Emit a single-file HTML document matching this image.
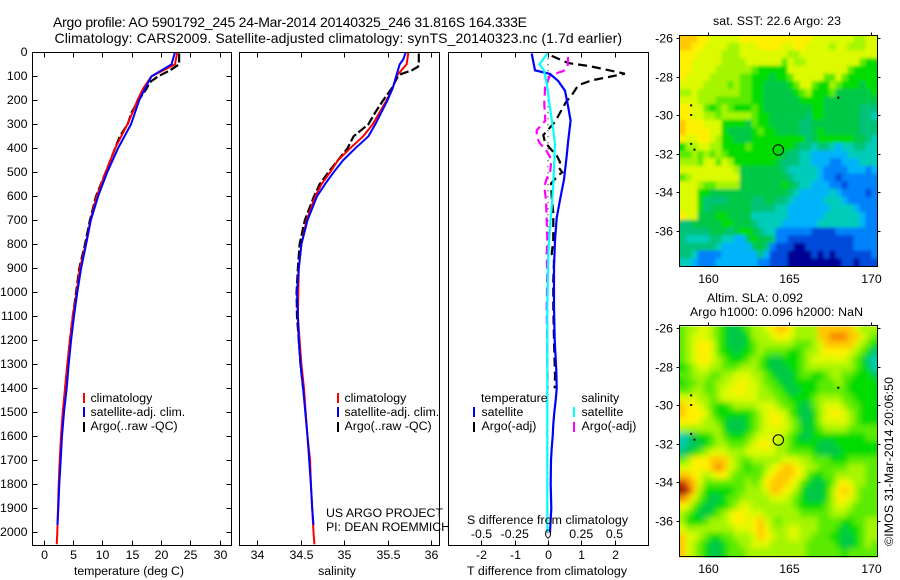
<!DOCTYPE html>
<html>
<head>
<meta charset="utf-8">
<title>Argo profile</title>
<style>
html,body{margin:0;padding:0;background:#fff;}
svg{display:block;}
text{font-family:"Liberation Sans",sans-serif;font-size:12.35px;fill:#000;}
.t{font-size:14px;}
</style>
</head>
<body>
<svg id="fig" width="900" height="580" viewBox="0 0 900 580" xmlns="http://www.w3.org/2000/svg">
<defs>
<clipPath id="clip-sst"><rect x="679.5" y="35.5" width="198" height="231"/></clipPath>
<clipPath id="clip-sla"><rect x="679.5" y="326.5" width="198" height="231"/></clipPath>
<clipPath id="clip-p1"><rect x="32" y="52" width="200" height="494"/></clipPath>
<clipPath id="clip-p2"><rect x="239" y="52" width="201" height="494"/></clipPath>
<clipPath id="clip-p3"><rect x="448" y="52" width="201" height="494"/></clipPath>
<filter id="smooth" filterUnits="userSpaceOnUse" x="650" y="300" width="250" height="280"><feGaussianBlur stdDeviation="3"/></filter>
<filter id="soft" filterUnits="userSpaceOnUse" x="650" y="0" width="250" height="290"><feGaussianBlur stdDeviation="1.5"/></filter>
</defs>
<rect x="0" y="0" width="900" height="580" fill="#fff"/>
<g id="maps"></g>
<g id="series"></g>
<g id="axes"></g>
<text class="t" x="53" y="27" textLength="474" lengthAdjust="spacing">Argo profile: AO 5901792_245 24-Mar-2014 20140325_246 31.816S 164.333E</text>
<text class="t" x="54.5" y="43" textLength="567.5" lengthAdjust="spacing">Climatology: CARS2009. Satellite-adjusted climatology: synTS_20140323.nc (1.7d earlier)</text>
<text x="713" y="25" textLength="128" lengthAdjust="spacing">sat. SST: 22.6 Argo: 23</text>
<text x="707" y="302" textLength="96" lengthAdjust="spacing">Altim. SLA: 0.092</text>
<text x="690" y="316" textLength="173" lengthAdjust="spacing">Argo h1000: 0.096 h2000: NaN</text>
<text transform="translate(893,546) rotate(-90)" textLength="169" lengthAdjust="spacing">©IMOS 31-Mar-2014 20:06:50</text>
<text x="74" y="575" textLength="110" lengthAdjust="spacing">temperature (deg C)</text>
<text x="337" y="575" text-anchor="middle">salinity</text>
<text x="467" y="575" textLength="160" lengthAdjust="spacing">T difference from climatology</text>
<text x="467" y="524" textLength="161" lengthAdjust="spacing">S difference from climatology</text>
<text x="326" y="517" textLength="117" lengthAdjust="spacing">US ARGO PROJECT</text>
<text x="326" y="531" textLength="124" lengthAdjust="spacing">PI: DEAN ROEMMICH</text>

<g>
<rect x="83" y="393" width="2" height="10" fill="#f00"/>
<text x="90.5" y="402">climatology</text>
<rect x="83" y="407" width="2" height="10" fill="#00f"/>
<text x="90.5" y="416">satellite-adj. clim.</text>
<rect x="83" y="422" width="2" height="10" fill="#000"/>
<text x="90.5" y="430">Argo(..raw -QC)</text>
</g>
<g>
<rect x="337" y="393" width="2" height="10" fill="#f00"/>
<text x="344.5" y="402">climatology</text>
<rect x="337" y="407" width="2" height="10" fill="#00f"/>
<text x="344.5" y="416">satellite-adj. clim.</text>
<rect x="337" y="422" width="2" height="10" fill="#000"/>
<text x="344.5" y="430">Argo(..raw -QC)</text>
</g>
<g>
<text x="481" y="402">temperature</text>
<rect x="473" y="407" width="2" height="10" fill="#00f"/>
<text x="481.5" y="416">satellite</text>
<rect x="473" y="422" width="2" height="10" fill="#000"/>
<text x="481.5" y="430">Argo(-adj)</text>
<text x="581.5" y="402">salinity</text>
<rect x="573" y="407" width="2" height="10" fill="#0ff"/>
<text x="581.5" y="416">satellite</text>
<rect x="573" y="422" width="2" height="10" fill="#f0f"/>
<text x="581.5" y="430">Argo(-adj)</text>
</g>
</svg>
<script>
// ---- tick labels ----
const depthTicks = [0,100,200,300,400,500,600,700,800,900,1000,1100,1200,1300,1400,1500,1600,1700,1800,1900,2000];
const tempTicks = [0,5,10,15,20,25,30];
const salTicks = ["34","34.5","35","35.5","36"];
const diffTTicks = ["-2","-1","0","1","2"];
const diffSTicks = ["-0.5","-0.25","0","0.25","0.5"];
const lonTicks = [160,165,170];
const latTicks = [-26,-28,-30,-32,-34,-36];

// ---- temperature panel ----
const tempClimDepth = [0,50,75,100,150,200,250,300,400,500,600,700,800,900,1000,1100,1200,1300,1400,1500,1600,1700,1800,1900,2000,2050];
const tempClim = [22.8,22.4,20.4,18.4,17,16,15.2,14.3,12.2,10.6,9.06,8,7.2,6.2,5.65,5,4.5,4.05,3.66,3.27,2.98,2.76,2.59,2.47,2.35,2.25];
const tempSatDepth = [0,50,75,100,150,200,250,300,400,500,600,700,800,900,1000,1100,1200,1300,1400,1500,1600,1700,1800,1900,1970];
const tempSat = [22.4,21.8,20.1,18.4,17.3,16.3,15.6,14.9,12.7,10.85,9.3,8.05,7.25,6.4,5.76,5.2,4.7,4.3,3.95,3.5,3.15,2.93,2.7,2.52,2.38];
const tempArgoDepth = [5,50,75,100,125,150,200,250,300,350,400,500,600,700,800,900,1000,1100,1200,1300,1400];
const tempArgo = [23.1,23.1,21.55,19.55,18.1,17.6,16.2,15,14.35,13,12.2,10.6,8.95,7.9,7.07,6.1,5.55,5,4.5,4.1,3.7];

// ---- salinity panel ----
const salClimDepth = [0,50,75,100,150,200,250,300,350,400,450,500,550,600,700,800,900,1000,1100,1200,1300,1400,1500,1600,1700,1800,1900,2000,2050];
const salClim = [35.74,35.72,35.66,35.6,35.56,35.49,35.41,35.33,35.22,35.07,34.93,34.84,34.74,34.67,34.57,34.51,34.48,34.475,34.47,34.49,34.51,34.54,34.56,34.58,34.61,34.62,34.635,34.65,34.66];
const salSatDepth = [0,30,50,75,100,150,200,250,300,350,400,450,500,550,600,700,800,900,1000,1100,1200,1300,1400,1500,1600,1700,1800,1900,1970];
const salSat = [35.71,35.68,35.64,35.62,35.6,35.56,35.5,35.43,35.36,35.28,35.13,34.99,34.88,34.78,34.69,34.58,34.51,34.48,34.46,34.47,34.48,34.5,34.53,34.555,34.58,34.6,34.62,34.635,34.65];
const salArgoDepth = [5,50,60,75,90,100,150,200,250,300,350,400,450,500,550,600,700,800,900,1000,1100,1200,1300,1400];
const salArgo = [35.86,35.86,35.85,35.78,35.66,35.62,35.55,35.45,35.36,35.28,35.11,35.04,34.93,34.82,34.72,34.655,34.55,34.49,34.47,34.455,34.46,34.48,34.5,34.53];

// ---- difference panel ----
const dTSatDepth = [5,75,90,120,160,230,285,365,435,530,615,690,785,895,1060,1200,1325,1400,1450,1500,1550,1600,1650,1700,1800,1900,2000];
const dTSat = [-0.49,-0.39,0.06,0.31,0.51,0.61,0.68,0.61,0.56,0.48,0.36,0.26,0.21,0.18,0.18,0.2,0.25,0.26,0.23,0.19,0.16,0.14,0.11,0.09,0.08,0.1,0.06];
const dSSatDepth = [5,50,75,130,230,325,380,480,550,630,730,840,1060,1500,2000];
const dSSat = [-0.005,-0.065,-0.03,-0.01,0.015,0.04,0.052,0.045,0.04,0.03,0.015,0.002,-0.005,-0.005,-0.005];
const dTArgoDepth = [15,45,58,89,117,137,180,207,290,345,375,408,430,457,478,500,512,547,603,672,728,783,840,867,950,1060,1200,1350,1400];
const dTArgo = [0.11,0.61,1.26,2.31,1.31,0.91,0.71,0.54,0.21,-0.14,-0.09,0.11,0.26,0.36,0.31,0.43,0.31,0.09,0.11,0.16,0.16,0.16,0.11,0.18,0.16,0.16,0.18,0.21,0.2];
const dSArgoDepth = [20,60,78,96,145,215,285,325,353,380,408,436,470,505,526,561,616,700,783,840,925,1060,1400];
const dSArgo = [0.15,0.147,0.115,0.015,-0.022,-0.028,-0.02,-0.085,-0.085,-0.06,-0.015,0.015,0.022,0.015,-0.01,-0.028,-0.015,-0.01,-0.005,-0.01,-0.005,-0.01,-0.002];

// ---- map data (colour level 0-15) ----
const colourLevels = ["#000096","#004bdc","#0082fa","#00b4fa","#00cdb9","#00c378","#00c846","#00dc00","#5aeb00","#a5f500","#dcfa00","#fff000","#ffc800","#f58200","#c83200","#821400"];
const sstGrid = [
[12,12,12,11,11,10,10,10,10,10,11,11,11,11,11,11,11,11,11,11,11,11,10,10,10,10,10,10,10,9,9,10,10],
[12,12,11,11,10,10,10,10,9,9,10,10,10,11,11,11,11,10,10,11,11,10,10,10,10,9,10,10,9,9,9,10,10],
[11,11,11,10,10,10,10,9,9,9,10,10,10,10,10,10,10,10,9,9,10,10,10,10,10,10,10,10,10,10,10,10,10],
[11,11,10,10,10,10,10,9,9,9,9,10,10,10,10,10,10,8,10,9,9,10,10,10,10,10,10,10,10,10,8,7,7],
[11,11,10,10,10,10,9,9,9,9,9,9,8,7,7,7,7,7,10,10,10,10,10,10,10,10,10,10,8,7,7,7,7],
[11,10,10,10,10,9,9,9,9,9,8,8,7,7,7,6,7,7,8,10,10,10,10,10,8,8,10,8,7,7,7,7,7],
[10,10,10,10,9,9,9,9,8,9,8,8,7,7,6,6,6,6,7,8,10,10,8,7,7,9,8,7,7,7,6,7,7],
[9,9,10,9,9,9,9,9,9,9,8,8,7,7,6,6,6,6,6,7,8,9,7,7,7,8,6,6,6,6,6,6,7],
[10,10,10,9,9,9,8,8,8,8,8,8,7,7,6,6,6,6,6,6,7,7,7,7,6,6,6,6,6,6,6,6,6],
[11,11,10,10,8,7,8,9,8,7,7,7,8,7,6,6,6,6,6,6,6,6,7,7,6,6,6,6,6,6,5,5,5],
[11,11,10,10,9,9,8,9,9,9,9,9,8,7,7,6,6,6,6,6,6,5,7,7,6,6,6,6,6,6,5,5,4],
[12,11,11,11,10,10,10,7,7,7,7,6,8,7,7,6,6,6,6,6,5,5,6,6,6,6,6,6,6,6,5,5,5],
[12,11,11,11,11,10,10,7,6,6,6,6,7,8,7,7,6,6,6,6,5,5,6,7,6,6,6,6,6,6,5,5,5],
[11,10,10,11,11,10,9,7,7,6,6,6,7,7,7,7,7,7,7,7,7,5,6,7,7,7,7,7,7,6,6,5,4],
[7,9,9,10,10,9,9,7,7,7,7,8,7,7,7,7,7,7,7,6,5,5,4,5,5,4,3,4,4,5,5,4,4],
[8,8,9,8,9,8,9,8,7,7,7,7,7,7,7,7,7,6,5,5,4,4,3,3,3,3,3,3,4,4,4,4,4],
[9,9,9,8,10,10,8,10,9,7,7,7,7,7,7,7,6,5,5,5,4,4,3,3,3,2,2,3,3,3,4,4,4],
[10,10,10,10,10,10,10,10,10,9,6,6,6,6,6,6,6,5,4,4,4,4,4,3,2,2,2,2,3,3,3,2,3],
[8,9,10,10,10,10,10,10,10,10,6,6,6,6,6,6,6,6,5,4,4,4,4,3,2,2,1,2,2,2,2,2,2],
[10,10,10,9,8,8,9,9,9,9,6,6,6,6,6,6,6,7,6,5,4,4,3,3,3,2,2,1,2,2,2,2,2],
[10,10,10,7,7,6,6,6,6,6,6,6,6,6,6,6,6,6,5,4,3,3,3,3,3,4,3,2,2,2,2,1,2],
[10,10,10,7,5,5,5,5,6,6,6,6,5,5,6,6,5,5,4,3,3,3,3,3,4,4,4,3,2,2,2,2,2],
[10,10,10,7,5,6,6,6,6,6,6,6,5,5,5,5,4,4,3,3,3,3,3,3,3,4,4,4,4,3,2,2,2],
[11,10,10,6,6,6,7,7,6,6,6,6,4,4,4,4,4,4,3,3,3,3,3,3,4,4,4,4,4,4,3,2,2],
[5,5,6,6,6,6,6,7,7,6,6,6,5,4,4,4,4,3,3,3,3,3,3,4,4,4,4,4,4,4,3,2,2],
[5,5,5,5,5,6,6,6,5,6,7,7,6,5,4,4,2,2,2,2,2,2,1,1,1,1,2,2,2,2,2,2,2],
[5,4,4,4,4,5,5,4,4,3,3,6,7,6,6,5,2,2,1,1,1,1,1,1,1,1,1,1,1,2,2,2,2],
[5,5,5,5,5,5,4,3,3,3,3,3,6,6,5,2,1,1,1,0,0,1,1,1,1,1,1,1,1,2,2,2,2],
[5,5,4,2,2,2,2,3,3,3,3,3,3,5,3,1,1,1,0,0,0,0,1,0,1,0,1,1,1,1,1,1,2],
[4,4,3,2,2,2,3,3,3,3,3,3,3,2,2,1,1,1,0,0,0,0,0,0,0,0,0,1,1,0,1,1,1]
];
const slaGrid = [
[8,9,9,10,10,9,8,7,6,6,7,8,9,9,10,11,12,12,11,9,9,9,9,12,12,12,12,12,12,10,9,9,9],
[8,9,10,10,10,9,8,7,6,6,6,7,9,9,9,10,11,11,10,9,9,9,9,12,12,13,13,13,12,12,10,9,8],
[8,9,10,11,11,10,8,7,6,6,6,7,8,9,9,9,9,9,9,8,8,8,9,10,12,12,12,12,12,10,9,8,7],
[8,9,10,11,11,10,8,7,7,6,7,7,8,9,8,8,8,8,7,7,8,9,9,10,11,11,11,11,10,9,8,7,5],
[8,9,10,11,11,10,9,8,7,7,7,8,9,8,7,6,6,7,7,7,8,9,10,10,10,10,10,10,9,8,7,5,4],
[7,8,9,10,10,9,9,8,8,8,9,9,9,8,7,6,6,6,7,7,8,9,9,9,9,9,9,9,9,8,7,6,4],
[8,8,9,9,9,8,8,9,9,10,10,10,9,9,8,7,6,6,6,7,8,8,7,7,8,9,9,8,8,7,7,7,6],
[7,8,8,9,8,8,9,9,10,10,11,10,10,9,8,8,7,6,6,7,7,7,7,8,8,8,9,8,7,7,7,7,7],
[8,8,9,9,8,8,9,10,10,11,11,10,10,9,9,8,8,7,6,6,7,7,7,8,8,8,8,8,7,7,7,7,7],
[10,10,10,9,9,8,9,10,10,10,10,10,10,9,9,9,8,8,7,7,7,7,8,9,9,9,9,8,8,7,7,7,7],
[12,11,11,10,9,8,7,7,8,9,9,9,9,10,10,10,9,8,8,7,6,6,8,9,10,10,10,9,8,8,7,7,7],
[12,11,11,11,10,8,7,7,7,7,7,7,8,9,10,11,10,10,8,7,6,6,7,9,10,11,11,10,9,8,7,7,7],
[11,11,11,10,9,9,8,7,6,6,6,7,8,9,10,11,11,10,9,8,6,6,7,9,10,10,10,10,9,8,7,7,7],
[9,9,9,9,9,9,9,7,6,6,6,7,8,9,10,10,10,10,9,8,7,6,7,8,9,9,9,9,8,8,8,8,8],
[4,5,6,7,7,8,9,8,7,7,7,8,9,10,10,10,10,9,8,7,6,6,7,7,7,7,7,7,7,7,7,8,8],
[4,5,6,6,7,8,9,9,8,8,8,9,10,11,11,10,9,9,8,7,7,7,7,6,6,6,7,7,7,7,7,7,7],
[5,6,7,8,9,10,10,10,9,9,9,10,10,10,10,10,9,9,8,8,8,8,7,6,6,6,6,7,7,7,7,7,7],
[8,9,11,11,11,12,12,12,10,9,8,8,9,9,9,9,9,10,10,10,9,9,8,8,8,7,7,7,8,8,8,8,8],
[10,10,11,11,11,12,13,12,10,9,8,7,8,8,9,10,11,12,12,11,10,9,9,8,8,8,8,8,9,9,9,8,8],
[12,12,11,10,9,10,11,11,9,8,8,8,8,8,10,11,12,12,12,11,10,8,7,7,8,8,9,9,9,9,9,8,8],
[14,13,12,10,8,8,8,8,8,8,8,9,8,9,11,12,12,12,11,10,8,7,6,6,7,8,10,11,10,9,9,8,8],
[15,14,12,9,7,7,7,7,7,8,8,9,9,9,10,12,12,11,10,9,7,6,6,6,7,9,11,12,11,9,8,8,8],
[13,12,10,8,7,6,6,7,8,8,9,9,9,9,9,10,10,10,9,8,7,6,6,6,7,9,11,11,10,9,8,8,8],
[11,10,8,7,6,6,7,7,8,9,10,10,9,9,9,9,9,9,9,8,7,7,7,7,8,9,10,10,9,8,8,8,8],
[9,8,7,6,6,7,8,9,10,11,11,10,10,10,9,9,9,9,9,9,8,8,8,8,8,9,9,9,8,8,8,8,8],
[9,7,7,7,8,9,9,9,10,11,11,10,11,12,10,9,8,9,9,9,9,9,9,8,8,8,8,7,7,8,8,9,9],
[10,9,9,9,9,9,9,9,9,10,10,10,11,12,11,9,9,9,10,10,9,9,9,8,8,8,7,6,7,7,8,9,9],
[12,10,10,9,8,7,7,8,8,9,9,9,10,12,11,10,9,9,10,10,9,9,8,8,8,7,7,6,6,7,8,9,9],
[12,10,9,8,7,6,6,7,8,8,9,9,10,10,10,9,9,9,9,9,9,8,8,8,8,8,7,6,6,7,8,9,8],
[12,10,9,8,7,6,6,7,8,8,8,9,9,9,9,9,9,9,9,9,9,8,8,8,8,8,8,7,8,8,8,8,8]
];
const profileLon = [164.333];
const profileLat = [-31.816];
const coastLon = [159,159,159,159.2,168];
const coastLat = [-29.5,-30,-31.5,-31.8,-29.1];

// ---- axis functions ----
function depthY(d){return 52.3+0.24*d;}
function tempX(t){return 43.5+5.87*t;}
function salX(s){return 257+87*(s-34);}
function diffTX(v){return 548+33.3*v;}
function diffSX(v){return 548+133*v;}
function lonX(lon){return 707.5+16.35*(lon-160);}
function latY(lat,top){return top+3+19.25*(-26-lat);}

const NS = "http://www.w3.org/2000/svg";
const seriesG = document.getElementById("series");
const axesG = document.getElementById("axes");
const mapsG = document.getElementById("maps");

function line(parent,name,x1,y1,x2,y2,sw){
  const el = document.createElementNS(NS,"line");
  
  
  el.setAttribute("x1",x1);el.setAttribute("y1",y1);el.setAttribute("x2",x2);el.setAttribute("y2",y2);
  el.setAttribute("stroke","#000");el.setAttribute("stroke-width",sw||1);
  el.setAttribute("shape-rendering","crispEdges");
  parent.appendChild(el);
}
function label(parent,name,x,y,str,anchor){
  const el = document.createElementNS(NS,"text");
  
  
  el.setAttribute("x",x);el.setAttribute("y",y);
  el.setAttribute("text-anchor",anchor||"middle");
  el.textContent = str;
  parent.appendChild(el);
}
function frame(name,x,y,w,h){
  const el = document.createElementNS(NS,"rect");
  
  
  el.setAttribute("x",x);el.setAttribute("y",y);el.setAttribute("width",w);el.setAttribute("height",h);
  el.setAttribute("fill","none");el.setAttribute("stroke","#000");el.setAttribute("stroke-width",1);
  el.setAttribute("shape-rendering","crispEdges");
  axesG.appendChild(el);
}
function profile(name,clip,xs,depths,fx,colour,width,dash){
  const el = document.createElementNS(NS,"polyline");
  
  
  el.setAttribute("points",xs.map((v,i)=>fx(v).toFixed(1)+","+depthY(depths[i]).toFixed(1)).join(" "));
  el.setAttribute("fill","none");el.setAttribute("stroke",colour);el.setAttribute("stroke-width",width);
  el.setAttribute("clip-path","url(#"+clip+")");
  if(dash) el.setAttribute("stroke-dasharray",dash);
  seriesG.appendChild(el);
}

// ---- series ----
profile("temperature-argo-line","clip-p1",tempArgo,tempArgoDepth,tempX,"#000",2.2,"9 3");
profile("temperature-climatology-line","clip-p1",tempClim,tempClimDepth,tempX,"#f00",2);
profile("temperature-satellite-line","clip-p1",tempSat,tempSatDepth,tempX,"#00f",2);
profile("salinity-argo-line","clip-p2",salArgo,salArgoDepth,salX,"#000",2.2,"9 3");
profile("salinity-climatology-line","clip-p2",salClim,salClimDepth,salX,"#f00",2);
profile("salinity-satellite-line","clip-p2",salSat,salSatDepth,salX,"#00f",2);
const zeroLine = document.createElementNS(NS,"line");


zeroLine.setAttribute("x1",diffTX(0));zeroLine.setAttribute("x2",diffTX(0));
zeroLine.setAttribute("y1",depthY(0));zeroLine.setAttribute("y2",545);
zeroLine.setAttribute("stroke","#000");zeroLine.setAttribute("stroke-width",1);zeroLine.setAttribute("stroke-dasharray","1 5");
seriesG.appendChild(zeroLine);
profile("t-difference-argo-line","clip-p3",dTArgo,dTArgoDepth,diffTX,"#000",2.2,"9 5");
profile("s-difference-argo-line","clip-p3",dSArgo,dSArgoDepth,diffSX,"#f0f",2.2,"9 5");
profile("t-difference-satellite-line","clip-p3",dTSat,dTSatDepth,diffTX,"#00f",2.2);
profile("s-difference-satellite-line","clip-p3",dSSat,dSSatDepth,diffSX,"#0ff",2.2);

// ---- profile panel axes ----
frame("temperature-panel-frame",32.5,52.5,199,493);
frame("salinity-panel-frame",239.5,52.5,200,493);
frame("difference-panel-frame",448.5,52.5,200,493);
depthTicks.forEach(d=>{
  const y = Math.round(depthY(d))+0.5;
  label(axesG,"depth-tick-label",27.5,y+3.5,String(d),"end");
  line(axesG,"depth-tick",32.5,y,37.5,y);
  line(axesG,"depth-tick",226.5,y,231.5,y);
});
tempTicks.forEach(t=>{
  const x = Math.round(tempX(t))+0.5;
  label(axesG,"temperature-tick-label",x,559,String(t));
  line(axesG,"temperature-tick",x,52.5,x,57.5);
  line(axesG,"temperature-tick",x,540.5,x,545.5);
});
salTicks.forEach(s=>{
  const x = Math.round(salX(parseFloat(s)))+0.5;
  label(axesG,"salinity-tick-label",x,559,s);
  line(axesG,"salinity-tick",x,52.5,x,57.5);
  line(axesG,"salinity-tick",x,540.5,x,545.5);
});
diffTTicks.forEach(s=>{
  const x = Math.round(diffTX(parseFloat(s)))+0.5;
  label(axesG,"t-difference-tick-label",x,559,s);
  line(axesG,"t-difference-tick",x,52.5,x,57.5);
  line(axesG,"t-difference-tick",x,540.5,x,545.5);
});
diffSTicks.forEach(s=>{
  label(axesG,"s-difference-tick-label",diffSX(parseFloat(s)),538,s);
});

// ---- maps ----
function drawMap(name,grid,top,clip,filterId){
  const outer = document.createElementNS(NS,"g");
  
  
  outer.setAttribute("clip-path","url(#"+clip+")");
  const inner = document.createElementNS(NS,"g");
  
  
  inner.setAttribute("filter","url(#"+filterId+")");
  const lonStart = 158.288, latStart = -25.844;
  const lonStep = (170.4-lonStart)/grid[0].length, latStep = 12/grid.length;
  grid.forEach((row,r)=>{
    row.forEach((v,c)=>{
      let x0 = lonX(lonStart+c*lonStep), x1 = lonX(lonStart+(c+1)*lonStep);
      let y0 = latY(latStart-r*latStep,top), y1 = latY(latStart-(r+1)*latStep,top);
      if(c===0) x0 -= 12;
      if(c===row.length-1) x1 += 12;
      if(r===0) y0 -= 12;
      if(r===grid.length-1) y1 += 12;
      const cell = document.createElementNS(NS,"rect");
      
      
      cell.setAttribute("x",x0.toFixed(1));cell.setAttribute("y",y0.toFixed(1));
      cell.setAttribute("width",(x1-x0+0.6).toFixed(1));cell.setAttribute("height",(y1-y0+0.6).toFixed(1));
      cell.setAttribute("fill",colourLevels[v]);
      inner.appendChild(cell);
    });
  });
  outer.appendChild(inner);
  mapsG.appendChild(outer);
  coastLon.forEach((lon,i)=>{
    const dot = document.createElementNS(NS,"rect");
    
    
    dot.setAttribute("x",lonX(lon)-1);dot.setAttribute("y",latY(coastLat[i],top)-1);
    dot.setAttribute("width",2);dot.setAttribute("height",2);dot.setAttribute("fill","#000");
    mapsG.appendChild(dot);
  });
  profileLon.forEach((lon,i)=>{
    const ring = document.createElementNS(NS,"circle");
    
    
    ring.setAttribute("cx",lonX(lon));ring.setAttribute("cy",latY(profileLat[i],top));
    ring.setAttribute("r",5.2);ring.setAttribute("fill","none");ring.setAttribute("stroke","#000");ring.setAttribute("stroke-width",1);
    mapsG.appendChild(ring);
  });
  frame(name+"-frame",679.5,top+0.5,198,231);
  lonTicks.forEach(lon=>{
    const x = Math.round(lonX(lon))+0.5;
    label(axesG,"longitude-tick-label",x,top+248,String(lon));
    line(axesG,"longitude-tick",x,top-2.5,x,top+0.5);
  });
  latTicks.forEach(lat=>{
    const y = Math.round(latY(lat,top))+0.5;
    label(axesG,"latitude-tick-label",673,y+4,String(lat),"end");
    line(axesG,"latitude-tick",676.5,y,679.5,y);
    line(axesG,"latitude-tick",877.5,y,880.5,y);
  });
}
drawMap("sst-map",sstGrid,35,"clip-sst","soft");
drawMap("sla-map",slaGrid,325,"clip-sla","smooth");
</script>
</body>
</html>
